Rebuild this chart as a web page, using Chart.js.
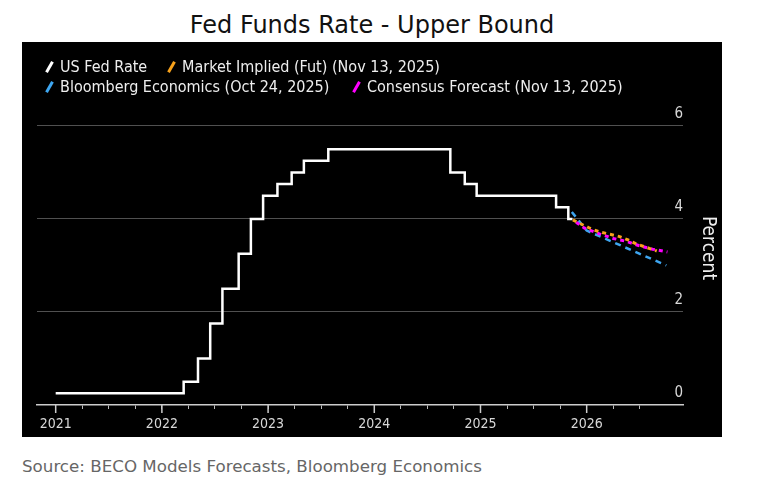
<!DOCTYPE html>
<html>
<head>
<meta charset="utf-8">
<script src="https://cdn.jsdelivr.net/npm/chart.js@4.4.1/dist/chart.umd.min.js"></script>
<style>
  body { margin: 0; background: #fff; font-family: "DejaVu Sans", sans-serif; }
  #title { position: absolute; left: 22px; top: 10px; width: 700px; text-align: center; font-size: 24px; line-height: 30px; color: #111; }
  #box { position: absolute; left: 22px; top: 42px; width: 700px; height: 395px; background: #000; }
  #box canvas { position: absolute; left: 0; top: 0; }
  .lg { position: absolute; color: #eee; font-size: 16px; line-height: 20px; white-space: nowrap; font-family: "DejaVu Sans Condensed", "Liberation Sans Narrow", "DejaVu Sans", sans-serif; }
  .mk { position: absolute; width: 3px; height: 12px; transform: rotate(30deg); }
  #source { position: absolute; left: 22px; top: 456px; font-size: 16.7px; color: #666; }
</style>
</head>
<body>
<div id="title">Fed Funds Rate - Upper Bound</div>
<div id="box">
  <canvas id="grafica" width="700" height="395"></canvas>
</div>
<div id="source">Source: BECO Models Forecasts, Bloomberg Economics</div>
<script>
// ejes
var tickYears = [2021, 2022, 2023, 2024, 2025, 2026];
var tickLabels = ['2021', '2022', '2023', '2024', '2025', '2026'];
var yTicks = [0, 2, 4, 6];

// tasa fed (limite superior), fecha en años decimales
var fedDates = [2021.0, 2022.205, 2022.340, 2022.455, 2022.570, 2022.723, 2022.838, 2022.953,
                2023.088, 2023.222, 2023.337, 2023.567, 2024.716, 2024.852, 2024.964,
                2025.712, 2025.827, 2025.866];
var fedValues = [0.25, 0.50, 1.00, 1.75, 2.50, 3.25, 4.00, 4.50,
                 4.75, 5.00, 5.25, 5.50, 5.00, 4.75, 4.50,
                 4.25, 4.00, 4.00];

// pronosticos
var mktDates = [2025.87, 2025.92, 2026.03, 2026.12, 2026.22, 2026.31, 2026.39, 2026.47, 2026.56, 2026.66];
var mktValues = [3.98, 3.92, 3.80, 3.72, 3.67, 3.62, 3.55, 3.46, 3.39, 3.31];

var becoDates = [2025.86, 2026.0, 2026.25, 2026.5, 2026.75];
var becoValues = [4.15, 3.75, 3.50, 3.25, 3.00];

var consDates = [2025.87, 2025.98, 2026.12, 2026.25, 2026.37, 2026.5, 2026.62, 2026.76];
var consValues = [3.98, 3.80, 3.68, 3.58, 3.52, 3.42, 3.35, 3.29];

// leyenda (x = inicio del texto en la pagina)
var legendItems = [
  { text: 'US Fed Rate', color: '#ffffff', x: 60, y: 15 },
  { text: 'Market Implied (Fut) (Nov 13, 2025)', color: '#f7a11a', x: 182, y: 15 },
  { text: 'Bloomberg Economics (Oct 24, 2025)', color: '#3ea6f0', x: 60, y: 35 },
  { text: 'Consensus Forecast (Nov 13, 2025)', color: '#ff00ff', x: 367, y: 35 }
];

function pts(xs, ys) {
  var out = [];
  for (var i = 0; i < xs.length; i++) out.push({ x: xs[i], y: ys[i] });
  return out;
}

var box = document.getElementById('box');
legendItems.forEach(function(it) {
  var m = document.createElement('span');
  m.className = 'mk';
  m.style.background = it.color;
  m.style.left = (it.x - 22 - 12) + 'px';
  m.style.top = (it.y + 4) + 'px';
  box.appendChild(m);
  var t = document.createElement('span');
  t.className = 'lg';
  t.textContent = it.text;
  t.style.left = (it.x - 22) + 'px';
  t.style.top = (it.y) + 'px';
  box.appendChild(t);
});

var quarterTicks = [];
for (var q = 2021; q <= 2026.5; q += 0.25) quarterTicks.push(q);

var majorTicks = {
  id: 'majorTicks',
  afterDraw: function(chart) {
    var sx = chart.scales.x;
    var c = chart.ctx;
    c.save();
    c.strokeStyle = '#cccccc';
    c.lineWidth = 1.5;
    tickYears.forEach(function(v) {
      var px = sx.getPixelForValue(v);
      c.beginPath();
      c.moveTo(px, chart.chartArea.bottom);
      c.lineTo(px, chart.chartArea.bottom + 8);
      c.stroke();
    });
    c.restore();
  }
};

var ctx = document.getElementById('grafica').getContext('2d');
var chart = new Chart(ctx, {
  type: 'line',
  data: {
    datasets: [{
      label: 'US Fed Rate',
      data: pts(fedDates, fedValues),
      borderColor: '#ffffff',
      borderWidth: 2.5,
      stepped: 'before',
      pointRadius: 0
    }, {
      label: 'Market Implied (Fut) (Nov 13, 2025)',
      data: pts(mktDates, mktValues),
      borderColor: '#f7a11a',
      borderWidth: 3,
      borderDash: [4, 4],
      pointRadius: 0
    }, {
      label: 'Consensus Forecast (Nov 13, 2025)',
      data: pts(consDates, consValues),
      borderColor: '#ff00ff',
      borderWidth: 3,
      borderDash: [4, 4],
      borderDashOffset: 4,
      pointRadius: 0
    }, {
      label: 'Bloomberg Economics (Oct 24, 2025)',
      data: pts(becoDates, becoValues),
      borderColor: '#3ea6f0',
      borderWidth: 2.5,
      borderDash: [6, 5],
      pointRadius: 0
    }]
  },
  options: {
    responsive: false,
    animation: false,
    layout: { padding: { left: 15, top: 49, right: 0, bottom: 4 } },
    plugins: { legend: { display: false }, tooltip: { enabled: false } },
    scales: {
      x: {
        type: 'linear',
        min: 2020.824,
        max: 2026.907,
        afterBuildTicks: function(scale) {
          scale.ticks = quarterTicks.map(function(v) { return { value: v }; });
        },
        afterFit: function(scale) { scale.height = 28; },
        grid: { drawOnChartArea: false, drawTicks: true, tickLength: 4, color: '#bbbbbb', lineWidth: 1 },
        border: { display: true, color: '#cccccc', width: 1.5 },
        ticks: {
          autoSkip: false,
          maxRotation: 0,
          padding: 7,
          color: '#d8d8d8',
          font: { family: '"DejaVu Sans Condensed", "Liberation Sans Narrow", "DejaVu Sans"', size: 14 },
          callback: function(value) {
            var i = tickYears.indexOf(value);
            return i >= 0 ? tickLabels[i] : '';
          }
        }
      },
      y: {
        position: 'right',
        min: 0,
        max: 6.75,
        afterBuildTicks: function(scale) {
          scale.ticks = yTicks.map(function(v) { return { value: v }; });
        },
        afterFit: function(scale) { scale.width = 39; },
        grid: {
          drawTicks: false,
          color: function(c) { return c.tick && c.tick.value === 0 ? 'rgba(0,0,0,0)' : '#505050'; }
        },
        border: { display: false },
        ticks: {
          mirror: true,
          padding: 0,
          labelOffset: -12,
          color: '#d8d8d8',
          font: { family: '"DejaVu Sans Condensed", "Liberation Sans Narrow", "DejaVu Sans"', size: 15 }
        },
        title: {
          display: true,
          text: 'Percent',
          color: '#eeeeee',
          padding: { top: 3, bottom: 3 },
          font: { family: '"DejaVu Sans Condensed", "Liberation Sans Narrow", "DejaVu Sans"', size: 19 }
        }
      }
    }
  },
  plugins: [majorTicks]
});
</script>
</body>
</html>
